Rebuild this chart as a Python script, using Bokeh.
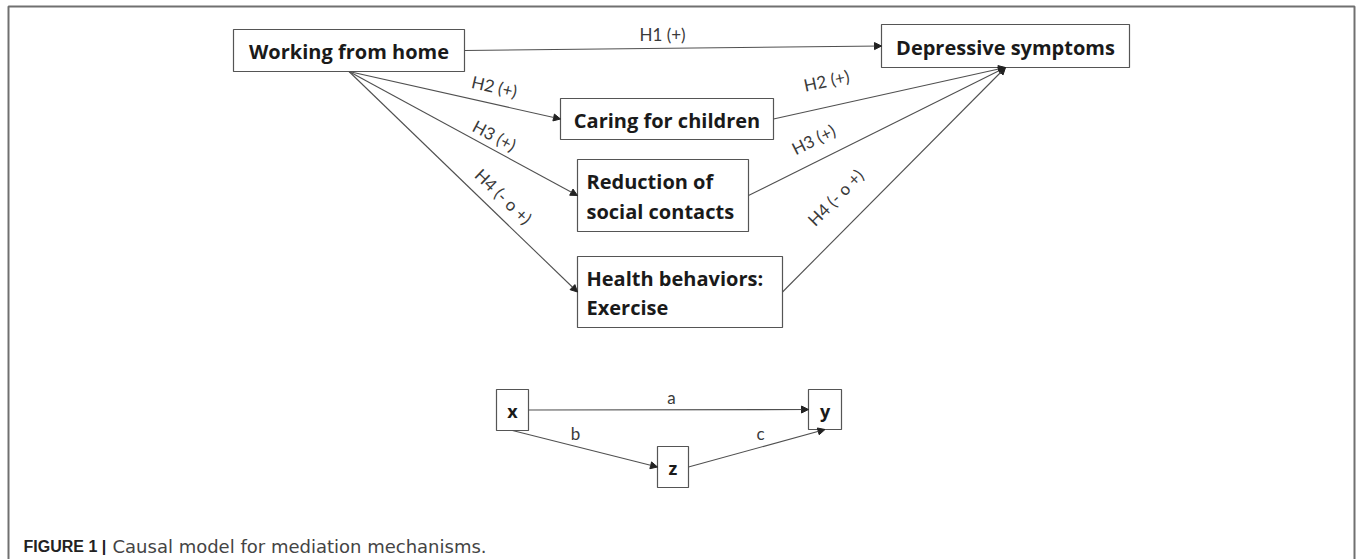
import math
from bokeh.plotting import figure
from bokeh.models import ColumnDataSource, Range1d, Arrow, NormalHead
from bokeh.core.properties import value
from bokeh.embed import file_html
from bokeh.resources import INLINE

# ---- diagram data (picture pixel coordinates) ----
box_names = ["wfh", "dep", "care", "red", "health", "x", "y", "z"]
box_labels = ["Working from home", "Depressive symptoms", "Caring for children",
              "Reduction of\nsocial contacts", "Health behaviors:\nExercise", "x", "y", "z"]
box_x0 = [233, 881, 560, 577, 577, 496, 808, 657]
box_x1 = [464, 1129, 773, 748, 782, 528, 841, 688]
box_y0 = [29, 24, 98, 159, 256, 389, 389, 446]
box_y1 = [71, 67, 139, 231, 327, 430, 429, 487]
box_align = ["center", "center", "center", "left", "left", "center", "center", "center"]
box_font = [20, 20, 20, 20, 20, 18, 18, 18]

edge_from = ["wfh", "wfh", "wfh", "wfh", "care", "red", "health", "x", "x", "z"]
edge_from_side = ["right", "bottom", "bottom", "bottom", "right", "right", "right", "right", "bottom", "right"]
edge_to = ["dep", "care", "red", "health", "dep", "dep", "dep", "y", "z", "y"]
edge_to_side = ["left", "left", "left", "left", "bottom", "bottom", "bottom", "left", "left", "bottom"]

edge_labels = ["H1 (+)", "H2 (+)", "H3 (+)", "H4 (- o +)", "H2 (+)", "H3 (+)", "H4 (- o +)", "a", "b", "c"]
label_x = [662, 494, 494, 503, 826, 813, 835, 671, 575, 760]
label_y = [34, 86, 135, 196, 80, 139, 197, 397, 433, 433]
label_deg = [0, -13, -28, -44, 12, 26.5, 45.5, 0, 0, 0]

caption_bold = "FIGURE 1 |"
caption_text = "Causal model for mediation mechanisms."

# ---- helpers ----
idx = {n: i for i, n in enumerate(box_names)}


def anchor(name, side):
    i = idx[name]
    cx = (box_x0[i] + box_x1[i]) / 2
    cy = (box_y0[i] + box_y1[i]) / 2
    if side == "left":
        return box_x0[i], cy
    if side == "right":
        return box_x1[i], cy
    if side == "bottom":
        return cx, box_y1[i]
    return cx, box_y0[i]


xs, ys, xe, ye = [], [], [], []
for f, fs, t, ts in zip(edge_from, edge_from_side, edge_to, edge_to_side):
    a = anchor(f, fs)
    b = anchor(t, ts)
    xs.append(a[0]); ys.append(a[1]); xe.append(b[0]); ye.append(b[1])

W, H = 1358, 559
p = figure(width=W, height=H, output_backend="svg", toolbar_location=None,
           x_range=Range1d(0, W), y_range=Range1d(H, 0),
           min_border=0, outline_line_color=None)
p.axis.visible = False
p.grid.visible = False
p.background_fill_color = "white"
p.border_fill_color = "white"

# frame border (left, top, right)
p.line(x=[8, 8, 1354, 1354], y=[559, 6, 6, 559], line_color="#707070", line_width=2)

# boxes
bsrc = ColumnDataSource(dict(left=box_x0, right=box_x1, top=box_y0, bottom=box_y1))
p.quad(left="left", right="right", top="top", bottom="bottom", source=bsrc,
       fill_color="white", line_color="#555555", line_width=1.2)

# box texts
for i, lab in enumerate(box_labels):
    if box_align[i] == "center":
        tx = (box_x0[i] + box_x1[i]) / 2
    else:
        tx = box_x0[i] + 9
    ty = (box_y0[i] + box_y1[i]) / 2 + 1
    p.text(x=[tx], y=[ty], text=[lab], text_font=value("Open Sans"), text_font_style="bold",
           text_font_size=f"{box_font[i]}px", text_align=box_align[i],
           text_baseline="middle", text_color="#1a1a1a", text_line_height=1.1)

# arrows
esrc = ColumnDataSource(dict(xs=xs, ys=ys, xe=xe, ye=ye))
p.add_layout(Arrow(end=NormalHead(size=7, fill_color="#222222", line_color="#222222", line_width=1),
                   x_start="xs", y_start="ys", x_end="xe", y_end="ye", source=esrc,
                   line_color="#505050", line_width=1.1))

# edge labels
lsrc = ColumnDataSource(dict(x=label_x, y=label_y, text=edge_labels,
                             angle=[math.radians(d) for d in label_deg]))
p.text(x="x", y="y", text="text", angle="angle", source=lsrc,
       text_font=value("Lato"), text_font_size="17px", text_align="center",
       text_baseline="middle", text_color="#3a3a3a")

# caption
p.text(x=[23], y=[546], text=[caption_bold], text_font=value("Liberation Sans"),
       text_font_style="bold", text_font_size="16px", text_color="#222222",
       text_baseline="alphabetic", text_align="left")
p.text(x=[112], y=[546], text=[caption_text], text_font=value("DejaVu Sans"),
       text_font_size="18px", text_color="#444444",
       text_baseline="alphabetic", text_align="left")

open("out.html", "w").write(file_html(p, INLINE))
